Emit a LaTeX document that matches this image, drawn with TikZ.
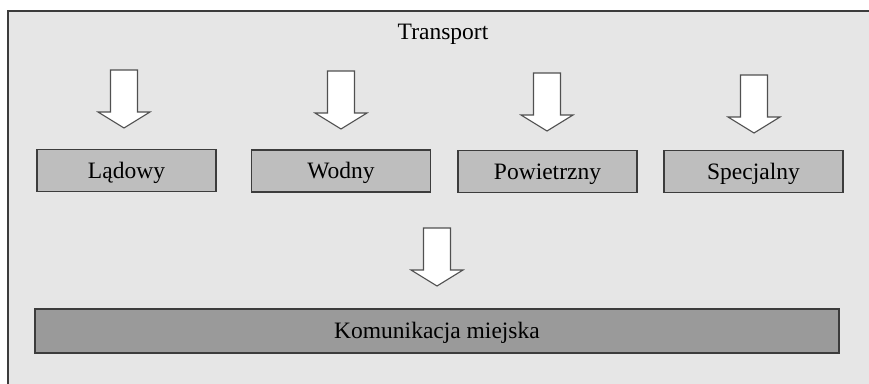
\documentclass[tikz,border=0pt]{standalone}
\usepackage{fontspec}
\setmainfont{Liberation Serif}
\definecolor{panel}{HTML}{E6E6E6}
\definecolor{boxgray}{HTML}{BEBEBE}
\definecolor{darkbox}{HTML}{9A9A9A}
\definecolor{edge}{HTML}{3C3C3C}
\definecolor{arrowedge}{HTML}{505050}
\begin{document}
\begin{tikzpicture}[x=1pt,y=-1pt,
  every node/.style={font=\fontsize{23.5}{26}\selectfont, text=black, text height=16pt, text depth=1pt},
  kind/.style={draw=edge, line width=1.6pt, fill=boxgray, minimum width=179pt, minimum height=42pt, inner sep=0pt},
  city/.style={draw=edge, line width=1.8pt, fill=darkbox, minimum width=804pt, minimum height=44pt, inner sep=0pt},
  arrowline/.style={draw=arrowedge, line width=1.1pt, fill=white, line join=miter},
  downarrow/.pic={\path[arrowline] (-13.5,0) -- (13.5,0) -- (13.5,42) -- (26,42) -- (0,58) -- (-26,42) -- (-13.5,42) -- cycle;}]
  \useasboundingbox (0,0) rectangle (869,383);
  \clip (0,0) rectangle (869,383);
  % outer panel, running past the right and bottom edges
  \fill[white] (0,0) rectangle (869,383);
  \draw[draw=edge, line width=2pt, fill=panel] (8,11) rectangle (890,400);

  \node (title) at (443,32) {Transport};

  % four kinds of transport
  \node[kind] (lad) at (126.5,170.5) {Lądowy};
  \node[kind] (wod) at (341,171) {Wodny};
  \node[kind] (pow) at (547.5,171.5) {Powietrzny};
  \node[kind] (spe) at (753.5,171.5) {Specjalny};

  % city transport
  \node[city] (kom) at (437,331) {Komunikacja miejska};

  % hollow block arrows
  \pic at (124,70) {downarrow};
  \pic at (341,71) {downarrow};
  \pic at (547,73) {downarrow};
  \pic at (754,75) {downarrow};
  \pic at (437,228) {downarrow};
\end{tikzpicture}
\end{document}
